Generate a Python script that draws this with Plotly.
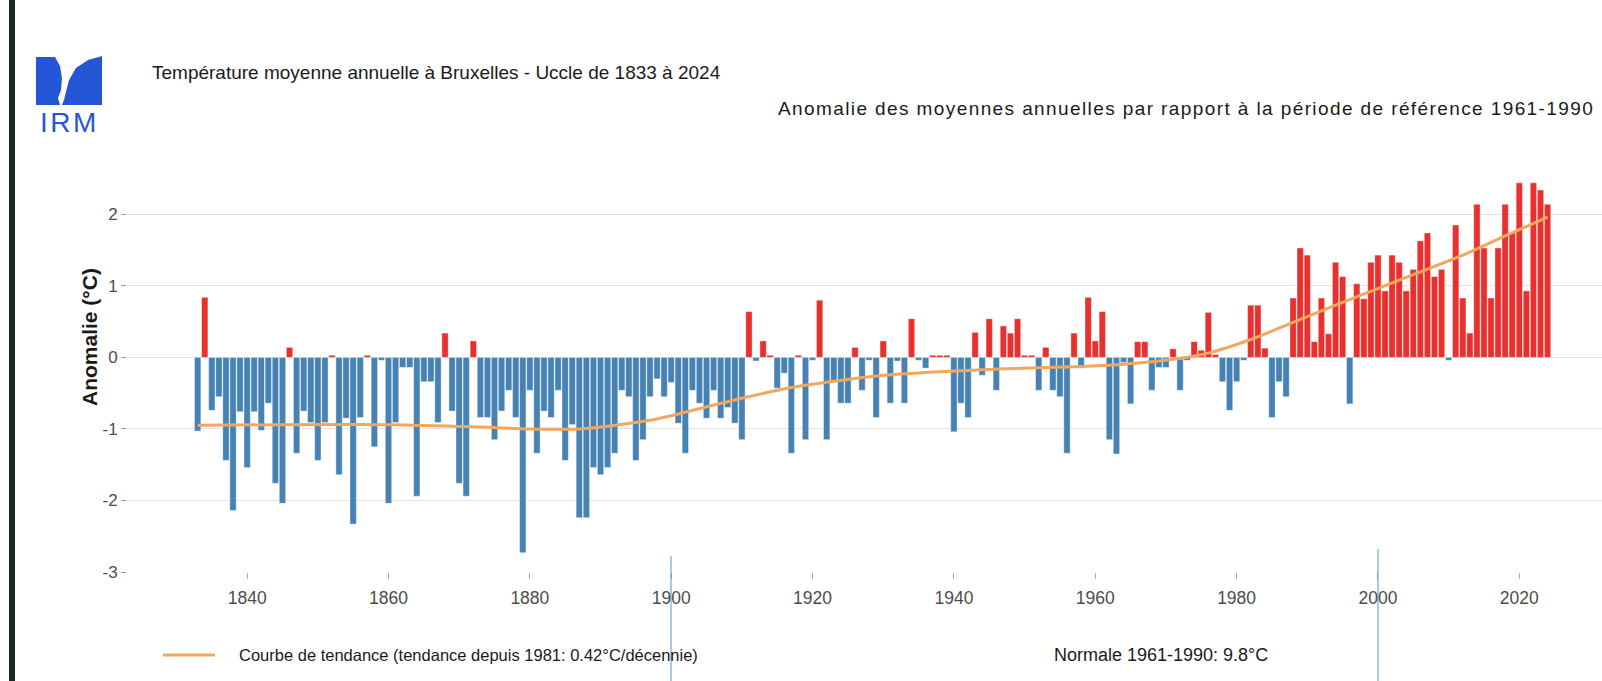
import plotly.graph_objects as go

# années et anomalies annuelles (°C) par rapport à 1961-1990
annees = list(range(1833, 2025))
anomalies = [
    -1.03, 0.84, -0.74, -0.55, -1.44, -2.14, -0.76,                       # 1833-1839
    -1.54, -0.76, -1.02, -0.64, -1.76, -2.04, 0.14, -1.34, -0.75, -0.91,  # 1840-1849
    -1.44, -0.91, 0.03, -1.64, -0.85, -2.33, -0.84, 0.03, -1.25, -0.04,   # 1850-1859
    -2.04, -0.91, -0.14, -0.14, -1.94, -0.34, -0.34, -0.91, 0.34, -0.75,  # 1860-1869
    -1.76, -1.94, 0.23, -0.84, -0.84, -1.15, -0.75, -0.46, -0.84, -2.73,  # 1870-1879
    -0.46, -1.34, -0.75, -0.84, -0.46, -1.44, -0.94, -2.24, -2.24, -1.54, # 1880-1889
    -1.64, -1.54, -1.34, -0.46, -0.55, -1.44, -1.15, -0.55, -0.30, -0.55, # 1890-1899
    -0.35, -0.92, -1.34, -0.46, -0.64, -0.85, -0.46, -0.85, -0.70, -0.92, # 1900-1909
    -1.15, 0.64, -0.05, 0.23, 0.03, -0.43, -0.22, -1.34, 0.03, -1.15,     # 1910-1919
    -0.04, 0.80, -1.15, -0.32, -0.64, -0.64, 0.14, -0.46, -0.04, -0.84,   # 1920-1929
    0.23, -0.64, -0.05, -0.64, 0.54, -0.04, -0.15, 0.03, 0.03, 0.03,      # 1930-1939
    -1.04, -0.64, -0.84, 0.35, -0.25, 0.54, -0.46, 0.44, 0.34, 0.54,      # 1940-1949
    0.03, 0.03, -0.46, 0.14, -0.46, -0.55, -1.34, 0.34, -0.15, 0.84,      # 1950-1959
    0.23, 0.64, -1.15, -1.35, -0.07, -0.65, 0.22, 0.22, -0.46, -0.14,     # 1960-1969
    -0.14, 0.12, -0.46, -0.04, 0.22, 0.10, 0.63, 0.04, -0.34, -0.74,      # 1970-1979
    -0.34, -0.04, 0.73, 0.73, 0.13, -0.84, -0.34, -0.55, 0.83, 1.53,      # 1980-1989
    1.43, 0.22, 0.83, 0.33, 1.33, 1.13, -0.65, 1.03, 0.82, 1.33,          # 1990-1999
    1.43, 0.93, 1.43, 1.33, 0.93, 1.23, 1.63, 1.74, 1.13, 1.23,           # 2000-2009
    -0.04, 1.85, 0.83, 0.34, 2.14, 1.53, 0.83, 1.53, 2.14, 1.74,          # 2010-2019
    2.44, 0.93, 2.44, 2.34, 2.14,                                         # 2020-2024
]

# courbe de tendance
tend_annees = [1833, 1845, 1860, 1872, 1880, 1887, 1892, 1897, 1901, 1905, 1910,
               1917, 1924, 1929, 1938, 1947, 1957, 1962, 1970, 1976, 1982, 1988,
               1994, 2003, 2012, 2018, 2024]
tend_valeurs = [-0.95, -0.94, -0.94, -0.97, -1.0, -1.0, -0.95, -0.88, -0.79, -0.69, -0.57,
                -0.42, -0.32, -0.26, -0.20, -0.16, -0.13, -0.11, -0.04, 0.06, 0.25, 0.49,
                0.73, 1.08, 1.43, 1.70, 1.96]

x_ticks = [1840, 1860, 1880, 1900, 1920, 1940, 1960, 1980, 2000, 2020]
y_ticks = [-3, -2, -1, 0, 1, 2]
y_labels = ['-3', '-2', '-1', '0', '1', '2']

ROUGE = '#E8312F'
BLEU = '#4682B4'
ORANGE = '#F2A75E'
LOGO = '#2456D6'

couleurs = [ROUGE if v > 0 else BLEU for v in anomalies]

# dimensions (pixels) pour placer les textes hors du graphique
W, H = 1602, 681
L, T, B = 127, 175, 109
pw, ph = W - L, H - T - B

def fx(x):
    return (x - L) / pw

def fy(y):
    return (H - B - y) / ph

fig = go.Figure()
fig.add_trace(go.Bar(x=annees, y=anomalies, marker_color=couleurs,
                     marker_line_width=0.4, marker_line_color='white'))
fig.add_trace(go.Scatter(x=tend_annees, y=tend_valeurs, mode='lines',
                         line=dict(color=ORANGE, width=3, shape='spline', smoothing=0.8)))

police = 'Liberation Sans, Arial, sans-serif'
sous_titre = 'Anomalie des moyennes annuelles par rapport à la période de référence 1961-1990'
annots = [
    dict(x=fx(150), y=fy(73), text='Température moyenne annuelle à Bruxelles - Uccle de 1833 à 2024',
         xanchor='left', yanchor='middle', font=dict(size=19, color='#1a1a1a')),
    dict(x=fx(1596), y=fy(108), text=f'<span style="letter-spacing:1.4px">{sous_titre}</span>',
         xanchor='right', yanchor='middle', font=dict(size=19, color='#1a1a1a')),
    dict(x=fx(89), y=fy(337), text='<b>Anomalie (°C)</b>', textangle=-90,
         xanchor='center', yanchor='middle', font=dict(size=21, color='#1a1a1a')),
    dict(x=fx(237), y=fy(655), text='Courbe de tendance (tendance depuis 1981: 0.42°C/décennie)',
         xanchor='left', yanchor='middle', font=dict(size=16.5, color='#1a1a1a')),
    dict(x=fx(1052), y=fy(655), text='Normale 1961-1990: 9.8°C',
         xanchor='left', yanchor='middle', font=dict(size=18, color='#1a1a1a')),
    dict(x=fx(69), y=fy(122), text='<span style="letter-spacing:2.5px">IRM</span>',
         xanchor='center', yanchor='middle', font=dict(size=28, color=LOGO)),
]
for a in annots:
    a.update(xref='paper', yref='paper', showarrow=False)

formes = [
    # barre sombre à gauche
    dict(type='rect', x0=fx(9), x1=fx(15), y0=fy(0), y1=fy(H), fillcolor='#1e2822', line_width=0),
    # segment de légende
    dict(type='line', x0=fx(163), x1=fx(215), y0=fy(655), y1=fy(655), line=dict(color=ORANGE, width=3)),
    # traits verticaux (1900 et 2000)
    dict(type='line', x0=fx(671), x1=fx(671), y0=fy(556), y1=fy(H), line=dict(color='#5b8fd0', width=1)),
    dict(type='line', x0=fx(1378), x1=fx(1378), y0=fy(549), y1=fy(H), line=dict(color='#5b8fd0', width=1)),
]

# logo IRM (deux formes bleues)
def chemin(points):
    return 'M ' + ' L '.join(f'{fx(a):.4f},{fy(b):.4f}' for a, b in points) + ' Z'

formes.append(dict(type='path', path=chemin([(36, 57), (55, 57), (60, 66), (62, 78), (61, 90), (58, 98),
                                              (60, 105), (36, 105)]),
                   fillcolor=LOGO, line_width=0))
formes.append(dict(type='path', path=chemin([(102, 56), (88, 60), (76, 68), (69, 80), (66, 92), (64, 100),
                                              (62, 105), (102, 105)]),
                   fillcolor=LOGO, line_width=0))
for s in formes:
    s.update(xref='paper', yref='paper')

fig.update_layout(
    width=W, height=H,
    margin=dict(l=L, r=0, t=T, b=B),
    paper_bgcolor='white', plot_bgcolor='white',
    bargap=0.1, showlegend=False,
    font=dict(family=police, size=17, color='#4d4d4d'),
    annotations=annots, shapes=formes,
)
fig.update_xaxes(range=[1823, 2031.7], tickvals=x_ticks, showgrid=False, zeroline=False,
                 ticks='outside', ticklen=6, tickcolor='#aaaaaa', ticklabelstandoff=4,
                 tickfont=dict(size=17.5, color='#4d4d4d'), showline=False)
fig.update_yaxes(range=[-3, 2.55], tickvals=y_ticks, ticktext=y_labels, showgrid=True,
                 gridcolor='#e3e3e3', gridwidth=1, zeroline=False, ticks='outside', ticklen=5,
                 tickcolor='#999999', tickfont=dict(size=17, color='#4d4d4d'))

fig.write_html('out.html', config={'displayModeBar': False},
               post_script="document.body.style.margin='0';")
